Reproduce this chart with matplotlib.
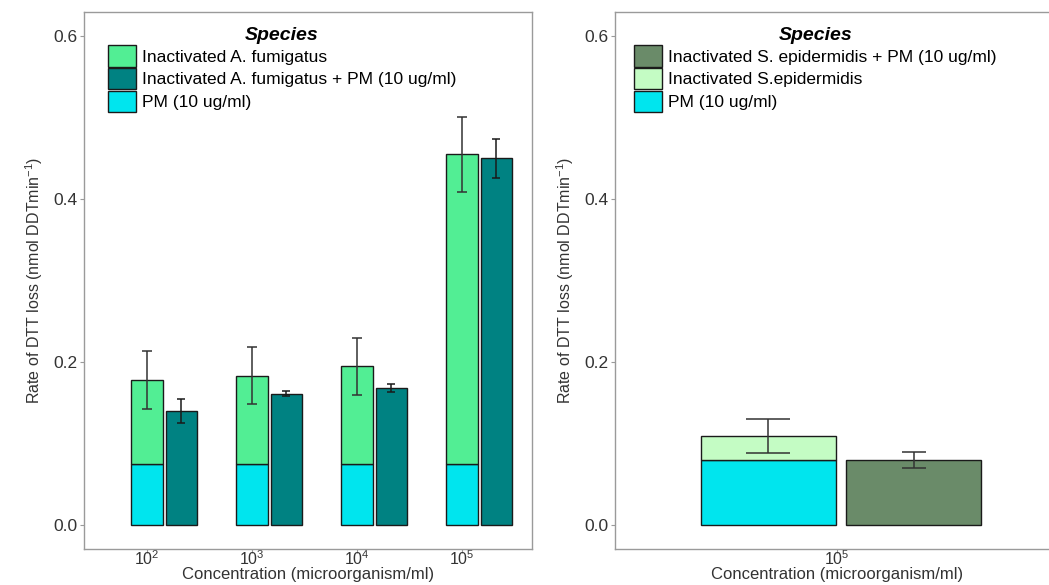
import matplotlib
matplotlib.use("Agg")
import matplotlib.pyplot as plt
import numpy as np
from matplotlib.patches import Patch

plt.rcParams["font.family"] = ["Liberation Sans", "DejaVu Sans"]
plt.rcParams["mathtext.fontset"] = "custom"
plt.rcParams["mathtext.rm"] = "Liberation Sans"
plt.rcParams["mathtext.it"] = "Liberation Sans:italic"

CONC_LABELS = ["$10^2$", "$10^3$", "$10^4$", "$10^5$"]
PM_LEFT = [0.075, 0.075, 0.075, 0.075]
FUMI_TOTAL = [0.178, 0.183, 0.195, 0.455]
FUMI_ERR = [0.036, 0.035, 0.035, 0.046]
FUMI_PM = [0.140, 0.161, 0.168, 0.450]
FUMI_PM_ERR = [0.015, 0.003, 0.005, 0.024]

RIGHT_LABELS = ["$10^5$"]
PM_RIGHT = [0.080]
EPI_TOTAL = [0.109]
EPI_ERR = [0.021]
EPI_PM = [0.080]
EPI_PM_ERR = [0.0095]

C_FUMI = "#52EE94"
C_FUMI_PM = "#008282"
C_PM = "#00E5EE"
C_EPI = "#C4FCC4"
C_EPI_PM = "#6A8B69"

GREY = "#9A9A9A"
TXT = "#333333"
EDGE = "#1a1a1a"
YLABEL = "Rate of DTT loss (nmol DDTmin$^{-1}$)"
XLABEL = "Concentration (microorganism/ml)"


def style_axes(ax):
    for s in ax.spines.values():
        s.set_color(GREY)
        s.set_linewidth(1.0)
    ax.tick_params(colors=GREY, labelcolor=TXT, length=3, width=0.8, pad=2)
    ax.tick_params(axis="y", labelsize=12.5)
    ax.tick_params(axis="x", labelsize=11.5, pad=-2.5)
    ax.set_ylim(-0.0295, 0.6294)
    ax.set_yticks([0.0, 0.2, 0.4, 0.6])
    ax.set_yticklabels(["0.0", "0.2", "0.4", "0.6"])
    ax.set_ylabel(YLABEL, family=["Liberation Sans Narrow", "Liberation Sans"],
                  fontsize=11.5, color=TXT, labelpad=6)
    ax.set_xlabel(XLABEL, fontsize=12, color=TXT)
    ax.xaxis.set_label_coords(0.5, -(567 - 549) / 537)


def add_legend(ax, handles, x, y):
    leg = ax.legend(handles=handles, title="Species", loc="upper left",
                    bbox_to_anchor=(x, y), frameon=False, fontsize=12.5,
                    handlelength=1.6, handleheight=1.5, labelspacing=0.08,
                    handletextpad=0.35, borderpad=0, borderaxespad=0)
    leg.get_title().set_fontsize(14)
    leg.get_title().set_fontweight("bold")
    leg.get_title().set_fontstyle("italic")
    return leg


fig = plt.figure(figsize=(10.49, 5.85), dpi=100)
ax1 = fig.add_axes([84 / 1049, 36 / 585, 448 / 1049, 537 / 585])
ax2 = fig.add_axes([615 / 1049, 36 / 585, 444 / 1049, 537 / 585])

# left panel
x = np.arange(1, len(CONC_LABELS) + 1)
w = 0.3
fumi_top = np.array(FUMI_TOTAL) - np.array(PM_LEFT)
ax1.bar(x, PM_LEFT, w, color=C_PM, edgecolor=EDGE, linewidth=1.0)
ax1.bar(x, fumi_top, w, bottom=PM_LEFT, color=C_FUMI, edgecolor=EDGE,
        linewidth=1.0)
ax1.bar(x + 0.33, FUMI_PM, w, color=C_FUMI_PM, edgecolor=EDGE, linewidth=1.0)
ax1.errorbar(x, FUMI_TOTAL, yerr=FUMI_ERR, fmt="none", ecolor="#333333",
             elinewidth=1.1, capsize=3.5, capthick=1.1)
ax1.errorbar(x + 0.32, FUMI_PM, yerr=FUMI_PM_ERR, fmt="none", ecolor=EDGE,
             elinewidth=1.1, capsize=3, capthick=1.1)
ax1.set_xlim(0.4, 4.667)
ax1.set_xticks(x)
ax1.set_xticklabels(CONC_LABELS)
style_axes(ax1)
add_legend(ax1, [
    Patch(facecolor=C_FUMI, edgecolor=EDGE, label="Inactivated A. fumigatus"),
    Patch(facecolor=C_FUMI_PM, edgecolor=EDGE,
          label="Inactivated A. fumigatus + PM (10 ug/ml)"),
    Patch(facecolor=C_PM, edgecolor=EDGE, label="PM (10 ug/ml)"),
], 24 / 448, 522 / 537)

# right panel
wr = 0.365
ax2.bar([0.814], PM_RIGHT, wr, color=C_PM, edgecolor=EDGE, linewidth=1.0)
ax2.bar([0.814], np.array(EPI_TOTAL) - np.array(PM_RIGHT), wr, bottom=PM_RIGHT,
        color=C_EPI, edgecolor=EDGE, linewidth=1.0)
ax2.bar([1.207], EPI_PM, wr, color=C_EPI_PM, edgecolor=EDGE, linewidth=1.0)
ax2.errorbar([0.814], EPI_TOTAL, yerr=EPI_ERR, fmt="none", ecolor="#333333",
             elinewidth=1.1, capsize=16, capthick=1.1)
ax2.errorbar([1.207], EPI_PM, yerr=EPI_PM_ERR, fmt="none", ecolor="#333333",
             elinewidth=1.1, capsize=8.5, capthick=1.1)
ax2.set_xlim(0.4, 1.6)
ax2.set_xticks([1])
ax2.set_xticklabels(RIGHT_LABELS)
style_axes(ax2)
add_legend(ax2, [
    Patch(facecolor=C_EPI_PM, edgecolor=EDGE,
          label="Inactivated S. epidermidis + PM (10 ug/ml)"),
    Patch(facecolor=C_EPI, edgecolor=EDGE, label="Inactivated S.epidermidis"),
    Patch(facecolor=C_PM, edgecolor=EDGE, label="PM (10 ug/ml)"),
], 19 / 444, 522 / 537)

fig.savefig("out.png", dpi=100)
